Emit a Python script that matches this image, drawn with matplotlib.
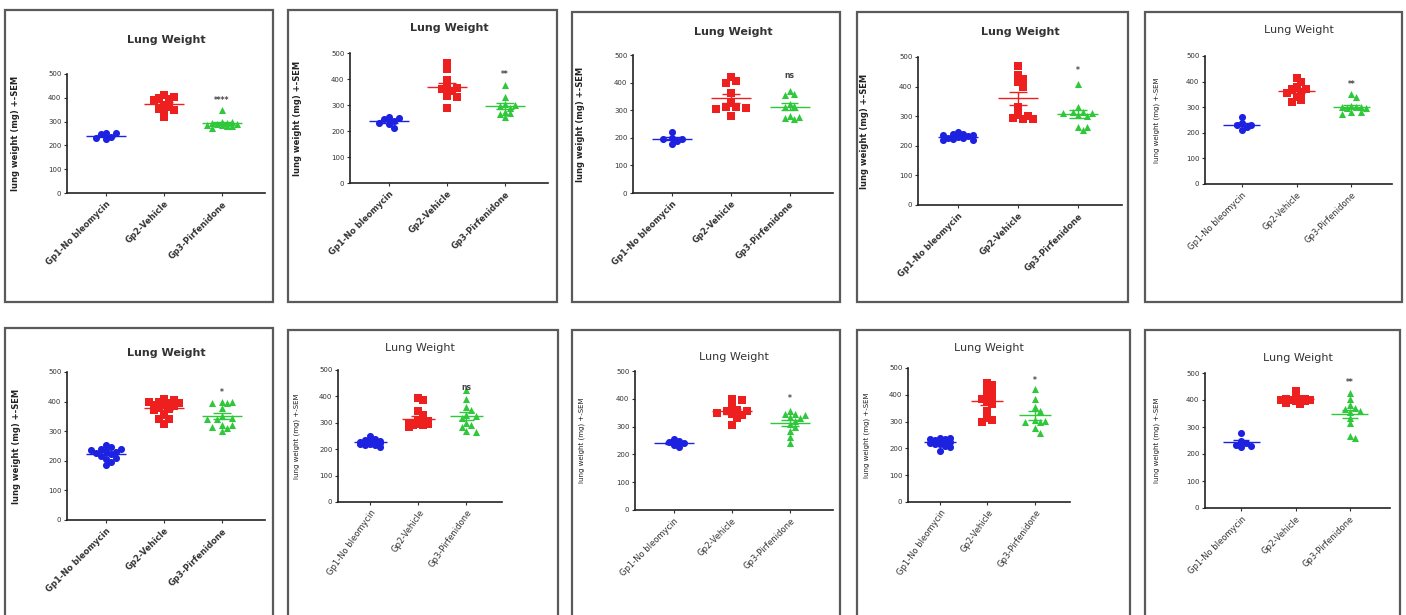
import numpy as np
import matplotlib.pyplot as plt
from matplotlib.patches import Rectangle

W, H = 1406, 615

groups = ["Gp1-No bleomycin", "Gp2-Vehicle", "Gp3-Pirfenidone"]
y_ticks = [0, 100, 200, 300, 400, 500]
title = "Lung Weight"
ylabel = "lung weight (mg) +-SEM"

# lung weight (mg) per animal
p1_gp1 = [254, 246, 236, 227, 229, 252]
p1_gp2 = [405, 400, 395, 390, 410, 355, 350, 320, 345, 360, 370]
p1_gp3 = [350, 300, 295, 290, 285, 280, 275, 290, 295, 285, 280, 300]

p2_gp1 = [245, 250, 240, 228, 212, 252, 232]
p2_gp2 = [460, 440, 395, 365, 360, 355, 335, 330, 290, 370]
p2_gp3 = [378, 330, 295, 290, 300, 305, 268, 252, 265, 275]

p3_gp1 = [197, 220, 178, 190, 200, 195]
p3_gp2 = [405, 400, 420, 362, 312, 305, 310, 280, 325, 308]
p3_gp3 = [370, 355, 358, 322, 315, 275, 268, 270, 280, 310]

p4_gp1 = [248, 240, 235, 230, 225, 220, 222, 228, 235, 240, 232, 218]
p4_gp2 = [470, 440, 425, 415, 400, 330, 300, 290, 290, 295, 305]
p4_gp3 = [410, 330, 315, 312, 310, 315, 300, 305, 265, 255, 262]

p5_gp1 = [260, 232, 230, 212, 222, 238]
p5_gp2 = [415, 400, 378, 370, 355, 340, 320, 330, 372, 360]
p5_gp3 = [340, 352, 302, 300, 298, 280, 275, 282, 295, 305, 300]

p6_gp1 = [255, 245, 235, 240, 230, 222, 215, 205, 195, 185, 225, 210, 240, 232]
p6_gp2 = [410, 405, 400, 400, 395, 390, 388, 385, 380, 375, 370, 355, 340, 325, 340, 395]
p6_gp3 = [400, 395, 380, 395, 400, 350, 340, 345, 340, 320, 315, 300, 320, 310]

p7_gp1 = [250, 240, 235, 230, 225, 220, 215, 210, 228, 222, 218, 232, 215, 225]
p7_gp2 = [395, 385, 345, 330, 310, 300, 295, 290, 285, 300, 295, 290, 305, 298]
p7_gp3 = [425, 390, 360, 350, 325, 320, 330, 290, 285, 265, 268, 300]

p8_gp1 = [248, 225, 245, 235, 255, 240]
p8_gp2 = [400, 395, 370, 360, 355, 345, 330, 305, 340, 355, 350]
p8_gp3 = [355, 345, 340, 335, 330, 310, 300, 285, 262, 240, 320, 345]

p9_gp1 = [240, 235, 230, 225, 220, 215, 210, 205, 230, 235, 240, 225, 192, 218]
p9_gp2 = [445, 435, 420, 410, 400, 385, 375, 365, 340, 315, 300, 305, 390]
p9_gp3 = [420, 385, 355, 340, 300, 305, 298, 275, 258, 302]

p10_gp1 = [278, 240, 230, 225, 250, 235]
p10_gp2 = [435, 405, 400, 400, 398, 395, 405, 410, 390, 385, 400, 402]
p10_gp3 = [425, 405, 380, 370, 360, 365, 335, 315, 265, 258, 355]

panels = [
    (p1_gp1, p1_gp2, p1_gp3), (p2_gp1, p2_gp2, p2_gp3), (p3_gp1, p3_gp2, p3_gp3),
    (p4_gp1, p4_gp2, p4_gp3), (p5_gp1, p5_gp2, p5_gp3), (p6_gp1, p6_gp2, p6_gp3),
    (p7_gp1, p7_gp2, p7_gp3), (p8_gp1, p8_gp2, p8_gp3), (p9_gp1, p9_gp2, p9_gp3),
    (p10_gp1, p10_gp2, p10_gp3),
]
stars = ["****", "**", "ns", "*", "**", "*", "ns", "*", "*", "**"]
star_y = [390, 418, 427, 455, 387, 430, 435, 400, 455, 466]

# layout in pixels: frame box, axes box (left, top, right, bottom), title y, ylabel x
frames = [(5, 10, 273, 302), (288, 10, 557, 302), (572, 12, 840, 302),
          (857, 12, 1128, 302), (1145, 12, 1402, 302),
          (5, 328, 273, 622), (288, 330, 558, 622), (572, 330, 840, 622),
          (857, 330, 1130, 622), (1145, 330, 1400, 622)]
axboxes = [(67, 74, 265, 193), (350, 53, 548, 183), (633, 55, 833, 193),
           (918, 57, 1122, 205), (1205, 56, 1392, 184),
           (67, 372, 265, 520), (338, 370, 502, 502), (635, 371, 833, 510),
           (908, 368, 1070, 502), (1205, 373, 1390, 508)]
title_y = [40, 28, 32, 32, 30, 353, 348, 357, 348, 358]
ylab_x = [20, 302, 585, 869, 1160, 21, 300, 585, 870, 1160]
bold = [True, True, True, True, False, True, False, False, False, False]
rot = [45, 45, 45, 45, 45, 45, 55, 45, 55, 45]

colors = ["#1c22e0", "#ee1f1f", "#2ec83a"]
markers = ["o", "s", "^"]


def swarm_x(ax, xc, vals, diam, max_units=0.28):
    # beeswarm in pixel space, allowed to overlap once the band is full
    tr = ax.transData
    x0 = tr.transform((xc, 0))[0]
    max_px = tr.transform((xc + max_units, 0))[0] - x0
    step = diam * 0.75
    n = int(max_px // step)
    offs = [0.0]
    for k in range(1, n + 1):
        offs += [k * step, -k * step]
    placed, xs = [], []
    for v in vals:
        py = tr.transform((xc, v))[1]
        best, best_d = 0.0, -1
        for off in offs:
            px = x0 + off
            d = min([np.hypot(px - qx, py - qy) for qx, qy in placed] or [99])
            if d >= diam * 0.8:
                best = off
                break
            if d > best_d:
                best, best_d = off, d
        placed.append((x0 + best, py))
        xs.append(tr.inverted().transform((x0 + best, py))[0])
    return xs


fig = plt.figure(figsize=(W / 100, H / 100), dpi=100)

for i, data in enumerate(panels):
    fx0, fy0, fx1, fy1 = frames[i]
    fig.patches.append(Rectangle((fx0 / W, 1 - fy1 / H), (fx1 - fx0) / W, (fy1 - fy0) / H,
                                 transform=fig.transFigure, fill=False,
                                 edgecolor="#5a5a5a", lw=1.6))
    l, t, r, b = axboxes[i]
    ax = fig.add_axes([l / W, 1 - b / H, (r - l) / W, (b - t) / H])
    ax.set_xlim(-0.67, 2.74)
    ax.set_ylim(0, 500)
    ax.patch.set_alpha(0)
    for s in ["top", "right"]:
        ax.spines[s].set_visible(False)
    for s in ["left", "bottom"]:
        ax.spines[s].set_linewidth(1.2)
        ax.spines[s].set_color("#222222")
    ax.set_yticks(y_ticks)
    ax.set_xticks(range(3))
    ax.tick_params(axis="y", labelsize=5, length=2.5, width=0.8, pad=1.5, colors="#333333")
    ax.tick_params(axis="x", length=2.5, width=0.8, pad=2, colors="#333333")
    ax.set_xticklabels(groups, rotation=rot[i], ha="right", rotation_mode="anchor",
                       fontsize=6, fontweight="bold" if bold[i] else "normal")

    diam = 6.5
    for g, vals in enumerate(data):
        vals = sorted(vals, reverse=True)
        xs = swarm_x(ax, g, vals, diam)
        ax.scatter(xs, vals, s=26, marker=markers[g], color=colors[g], lw=0, zorder=3)
        m = np.mean(vals)
        sem = np.std(vals, ddof=1) / np.sqrt(len(vals))
        ax.hlines(m, g - 0.34, g + 0.34, color=colors[g], lw=1.0, zorder=4)
        ax.vlines(g, m - sem, m + sem, color=colors[g], lw=1.0, zorder=4)
        ax.hlines([m - sem, m + sem], g - 0.15, g + 0.15, color=colors[g], lw=1.0, zorder=4)

    ax.text(2, star_y[i], stars[i], ha="center", va="center", fontsize=5.5,
            color="#444444", fontweight="bold")

    ax.set_ylabel(ylabel, fontsize=6 if bold[i] else 5,
                  fontweight="bold" if bold[i] else "normal", color="#222222")
    ax.yaxis.set_label_coords((ylab_x[i] - l) / (r - l), 0.5)

    fig.text((l + r) / 2 / W, 1 - title_y[i] / H, title, ha="center", va="center",
             fontsize=8, fontweight="bold" if bold[i] else "normal", color="#333333")

fig.savefig("out.png", dpi=100, facecolor="white")
